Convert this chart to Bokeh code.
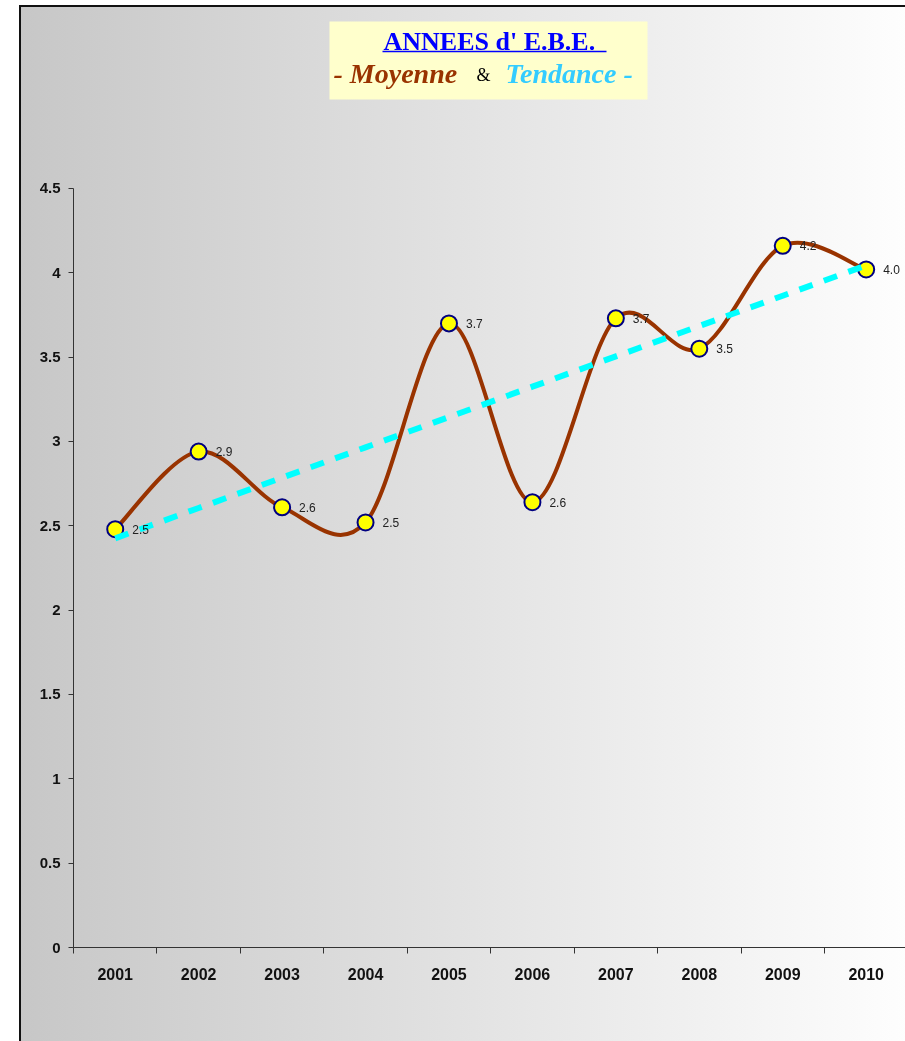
import numpy as np
from bokeh.plotting import figure
from bokeh.models import FixedTicker, Range1d, Label, BoxAnnotation, ColumnDataSource
from bokeh.embed import file_html
from bokeh.resources import INLINE
from bokeh.core.properties import value

# ---------------- data ----------------
years = [2001, 2002, 2003, 2004, 2005, 2006, 2007, 2008, 2009, 2010]
year_labels = ["2001", "2002", "2003", "2004", "2005", "2006", "2007", "2008", "2009", "2010"]
moyenne = [2.48, 2.94, 2.61, 2.52, 3.70, 2.64, 3.73, 3.55, 4.16, 4.02]
point_labels = ["2.5", "2.9", "2.6", "2.5", "3.7", "2.6", "3.7", "3.5", "4.2", "4.0"]
y_ticks = [0, 0.5, 1, 1.5, 2, 2.5, 3, 3.5, 4, 4.5]
y_tick_labels = ["0", "0.5", "1", "1.5", "2", "2.5", "3", "3.5", "4", "4.5"]
title_line1 = "ANNEES d' E.B.E."
title_moy = "- Moyenne"
title_amp = "&"
title_tend = "Tendance -"

# ---------------- layout ----------------
W, H = 905, 1041
LEFT, BOTTOM = 73, 94
frame_w = W - LEFT
frame_h = H - BOTTOM
ppx = 83.44          # pixels per year
ppy = 168.67         # pixels per unit
x0 = 2000.5
x1 = x0 + frame_w / ppx
y_top = frame_h / ppy

FRAME_LEFT_PX, FRAME_BOTTOM_PX = LEFT, H - BOTTOM
def dx(px):
    return x0 + (px - FRAME_LEFT_PX) / ppx
def dy(py):
    return (FRAME_BOTTOM_PX - py) / ppy

p = figure(width=W, height=H, output_backend="svg", toolbar_location=None,
           x_range=Range1d(x0, x1), y_range=Range1d(0, y_top))
p.min_border_left = LEFT
p.min_border_right = 0
p.min_border_top = 0
p.min_border_bottom = BOTTOM
p.background_fill_alpha = 0
p.border_fill_alpha = 0
p.outline_line_color = None
p.xgrid.visible = False
p.ygrid.visible = False

# axes
bounds = [y + 0.5 for y in [years[0] - 1] + years]
p.xaxis.ticker = FixedTicker(ticks=years, minor_ticks=bounds)
p.xaxis.major_label_overrides = {y: l for y, l in zip(years, year_labels)}
p.xaxis.major_tick_out = 0
p.xaxis.major_tick_in = 0
p.xaxis.minor_tick_out = 6
p.xaxis.minor_tick_in = 0
p.xaxis.major_label_standoff = 14
p.xaxis.axis_line_color = "#333333"
p.xaxis.minor_tick_line_color = "#333333"
p.xaxis.major_label_text_font = "Liberation Sans"
p.xaxis.major_label_text_font_style = "bold"
p.xaxis.major_label_text_font_size = "16px"
p.xaxis.major_label_text_color = "#111111"

p.yaxis.ticker = FixedTicker(ticks=y_ticks, minor_ticks=[])
p.yaxis.major_label_overrides = {t: l for t, l in zip(y_ticks, y_tick_labels)}
p.yaxis.bounds = (0, 4.5)
p.yaxis.major_tick_out = 5
p.yaxis.major_tick_in = 0
p.yaxis.minor_tick_out = 0
p.yaxis.minor_tick_in = 0
p.yaxis.major_label_standoff = 8
p.yaxis.axis_line_color = "#333333"
p.yaxis.major_tick_line_color = "#333333"
p.yaxis.major_label_text_font = "Liberation Sans"
p.yaxis.major_label_text_font_style = "bold"
p.yaxis.major_label_text_font_size = "15px"
p.yaxis.major_label_text_color = "#111111"

# title box (under the glyphs)
p.add_layout(BoxAnnotation(left=dx(329), right=dx(647), top=dy(21), bottom=dy(99),
                           fill_color="#ffffcc", fill_alpha=1, line_color=None,
                           level="underlay"))

# smoothed curve (Catmull-Rom style cubic Beziers through the points)
xs = np.array(years, dtype=float)
ys = np.array(moyenne, dtype=float)
n = len(xs)
seg = dict(x0=[], y0=[], x1=[], y1=[], cx0=[], cy0=[], cx1=[], cy1=[])
for i in range(n - 1):
    ip = max(i - 1, 0)
    inn = min(i + 2, n - 1)
    seg["x0"].append(xs[i]); seg["y0"].append(ys[i])
    seg["x1"].append(xs[i + 1]); seg["y1"].append(ys[i + 1])
    seg["cx0"].append(xs[i] + (xs[i + 1] - xs[ip]) / 6)
    seg["cy0"].append(ys[i] + (ys[i + 1] - ys[ip]) / 6)
    seg["cx1"].append(xs[i + 1] - (xs[inn] - xs[i]) / 6)
    seg["cy1"].append(ys[i + 1] - (ys[inn] - ys[i]) / 6)
p.bezier(x0="x0", y0="y0", x1="x1", y1="y1", cx0="cx0", cy0="cy0", cx1="cx1", cy1="cy1",
         source=ColumnDataSource(seg), line_color="#993300", line_width=4, line_cap="round")

src = ColumnDataSource(dict(x=years, y=moyenne, t=point_labels))
p.scatter("x", "y", source=src, size=16, fill_color="#ffff00", line_color="#000080", line_width=2)

# linear trend (least squares on the series)
slope, icpt = np.polyfit(xs, ys, 1)
p.line(xs, slope * xs + icpt, line_color="#00ffff", line_width=6, line_dash="14 12")

p.text("x", "y", text="t", source=src, x_offset=17, text_baseline="middle",
       text_font=value("Liberation Sans"), text_font_size=value("12px"), text_color="#222222")

# title texts
p.add_layout(Label(x=dx(383), y=dy(41), text=title_line1, text_align="left",
                   text_baseline="alphabetic", text_font="Liberation Serif",
                   text_font_style="bold", text_font_size="26px", text_color="#0000ff"))
p.line([dx(382), dx(606)], [dy(51), dy(51)], line_color="#0000ff", line_width=1.5)
p.add_layout(Label(x=dx(333), y=dy(73), text=title_moy, text_align="left",
                   text_baseline="alphabetic", text_font="Liberation Serif",
                   text_font_style="bold italic", text_font_size="28px", text_color="#993300"))
p.add_layout(Label(x=dx(476), y=dy(74), text=title_amp, text_align="left",
                   text_baseline="alphabetic", text_font="Liberation Serif",
                   text_font_size="18px", text_color="#000000"))
p.add_layout(Label(x=dx(505), y=dy(73), text=title_tend, text_align="left",
                   text_baseline="alphabetic", text_font="Liberation Serif",
                   text_font_style="bold italic", text_font_size="28px", text_color="#33ccff"))

html = file_html(p, INLINE, title="ANNEES d' E.B.E.")
bg = ('<div style="position:fixed;left:19px;top:5px;width:1400px;height:1400px;'
      'background:linear-gradient(to right,#c7c7c7 0px,#fefefe 890px);'
      'border-left:2px solid #111;border-top:2px solid #111;z-index:-1;"></div>\n')
k = html.rfind("</body>")
if k >= 0:
    html = html[:k] + bg + html[k:]
open("out.html", "w").write(html)
